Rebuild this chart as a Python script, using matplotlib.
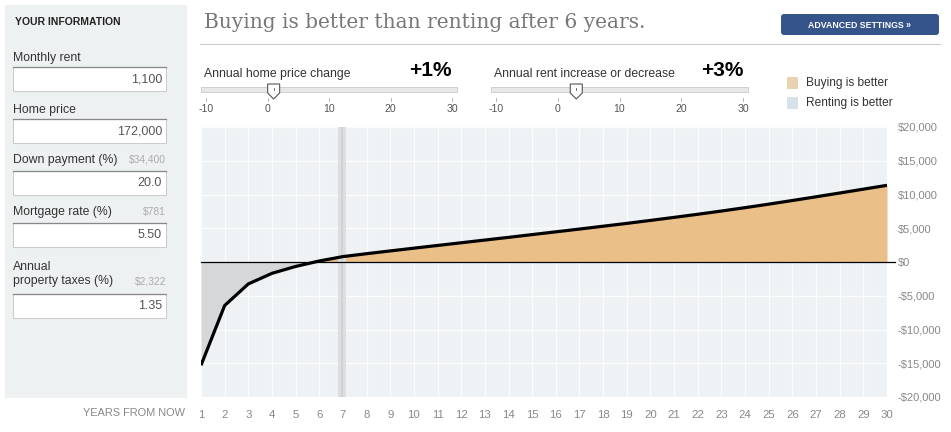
import numpy as np
import matplotlib.pyplot as plt
from matplotlib.patches import Rectangle, FancyBboxPatch, Polygon

plt.rcParams['font.family'] = ['Liberation Sans', 'DejaVu Sans']

# data
years = list(range(1, 31))
net = [-15300, -6450, -3250, -1680, -660, 150, 800, 1230, 1640, 2050,
       2450, 2850, 3250, 3650, 4060, 4470, 4880, 5300, 5720, 6160,
       6610, 7070, 7550, 8050, 8570, 9110, 9660, 10220, 10790, 11360]
yticks = [-20000, -15000, -10000, -5000, 0, 5000, 10000, 15000, 20000]
slider_ticks = [-10, 0, 10, 20, 30]
home_price_change = 1
rent_change = 3
marker_year = 6.97

inputs = [
    # label, label y, box top, value, side note
    ("Monthly rent", 58, 67, "1,100", ""),
    ("Home price", 110, 119, "172,000", ""),
    ("Down payment (%)", 160, 171, "20.0", "$34,400"),
    ("Mortgage rate (%)", 212, 223, "5.50", "$781"),
    ("Annual\nproperty taxes (%)", 274, 294, "1.35", "$2,322"),
]

W, H = 951, 432
fig = plt.figure(figsize=(W / 100, H / 100), dpi=100)
fig.patch.set_facecolor('white')

# overlay in pixel coords for the page furniture
bg = fig.add_axes([0, 0, 1, 1], zorder=0)
bg.set_xlim(0, W)
bg.set_ylim(H, 0)
bg.set_axis_off()

grey = '#333333'

# left panel
bg.add_patch(Rectangle((5, 5), 182, 393, fc='#eef1f2', ec='none'))
bg.text(15, 22, "YOUR INFORMATION", fontsize=7.5, fontweight='bold', color='#222222', va='center')
for lab, ly, by, val, note in inputs:
    bg.text(13, ly, lab, fontsize=8.8, color=grey, va='center', linespacing=1.3)
    if note:
        nl = ly + 8 if '\n' in lab else ly
        bg.text(166, nl, note, fontsize=7.4, color='#aaaaaa', va='center', ha='right')
    bg.add_patch(Rectangle((13, by), 153, 24, fc='white', ec='#cccccc', lw=0.8))
    bg.plot([13, 166], [by, by], color='#888888', lw=0.9)
    bg.text(162, by + 12, val, fontsize=9, color='#555555', va='center', ha='right')

bg.text(185, 413, "YEARS FROM NOW", fontsize=7.9, color='#888888', va='center', ha='right')

# headline
bg.text(204, 22, "Buying is better than renting after 6 years.", family='DejaVu Serif',
        fontsize=14.5, color='#777777', va='center')
bg.plot([200, 940], [44, 44], color='#cccccc', lw=0.8)

# button
bg.add_patch(FancyBboxPatch((781, 14), 158, 21, boxstyle='round,pad=0,rounding_size=3',
                            fc='#34548a', ec='none'))
bg.text(860, 25, "ADVANCED SETTINGS \u00bb", fontsize=6.3, fontweight='bold', color='white',
        ha='center', va='center')


def slider(x0, x1, title, big, value):
    bg.text(x0 + 3, 74, title, fontsize=8.8, color=grey, va='center')
    bg.text(x1 - 5, 70, big, fontsize=15, fontweight='bold', color='black', va='center', ha='right')
    bg.add_patch(Rectangle((x0, 87), x1 - x0, 5, fc='#e8e8e8', ec='#cfcfcf', lw=0.7))
    lo, hi = x0 + 5, x1 - 5
    for t in slider_ticks:
        px = lo + (t - slider_ticks[0]) / (slider_ticks[-1] - slider_ticks[0]) * (hi - lo)
        bg.plot([px, px], [98, 101], color='#aaaaaa', lw=0.6)
        bg.text(px, 109, str(t), fontsize=7.6, color='#555555', ha='center', va='center')
    hx = lo + (value - slider_ticks[0]) / (slider_ticks[-1] - slider_ticks[0]) * (hi - lo)
    bg.add_patch(Polygon([(hx - 6, 84), (hx + 6, 84), (hx + 6, 93), (hx, 99), (hx - 6, 93)],
                         closed=True, fc='white', ec='#555555', lw=0.8))
    bg.plot([hx, hx], [88, 90], color='#555555', lw=0.6)


slider(201, 457, "Annual home price change", "+%d%%" % home_price_change, home_price_change)
slider(491, 748, "Annual rent increase or decrease", "+%d%%" % rent_change, rent_change)

# legend
bg.add_patch(Rectangle((787, 77), 11, 12, fc='#e9d1b1', ec='none'))
bg.text(806, 83, "Buying is better", fontsize=8.6, color=grey, va='center')
bg.add_patch(Rectangle((787, 97), 11, 12, fc='#d7e1ea', ec='none'))
bg.text(806, 103, "Renting is better", fontsize=8.6, color=grey, va='center')

# chart
ax = fig.add_axes([201 / W, 1 - 397 / H, 686 / W, 270 / H], zorder=1)
ax.set_facecolor('#eef2f4')
ax.set_xlim(1, 30)
ax.set_ylim(-20000, 20000)
for s in ax.spines.values():
    s.set_visible(False)
ax.set_xticks(years)
ax.set_yticks(yticks)
ax.grid(True, color='#fbfcfc', lw=0.9)
ax.set_axisbelow(True)
ax.tick_params(length=0, colors='#888888', labelsize=8.2)
ax.tick_params(axis='x', pad=9)
ax.yaxis.tick_right()
ax.tick_params(axis='y', labelsize=8.0, pad=7.5)
ax.set_yticklabels(["$%s" % format(v, ',') if v >= 0 else "-$%s" % format(-v, ',') for v in yticks])

y = np.array(net)
ax.fill_between(years, y, 0, where=y >= 0, interpolate=True, color='#ebbf88', lw=0, zorder=2)
ax.fill_between(years, y, 0, where=y <= 0, interpolate=True, color='#d5d7d9', lw=0, zorder=2)
ax.axvspan(marker_year - 0.17, marker_year + 0.17, color='#dededf', lw=0, zorder=2.5)
ax.axvline(marker_year, color='#d0d0d2', lw=1.3, zorder=2.6)
ax.plot([0, 1.012], [0.5, 0.5], transform=ax.transAxes, color='black', lw=0.9, clip_on=False, zorder=3)
ax.plot(years, net, color='black', lw=2.3, zorder=4, solid_capstyle='butt')

fig.savefig('out.png', dpi=100)
